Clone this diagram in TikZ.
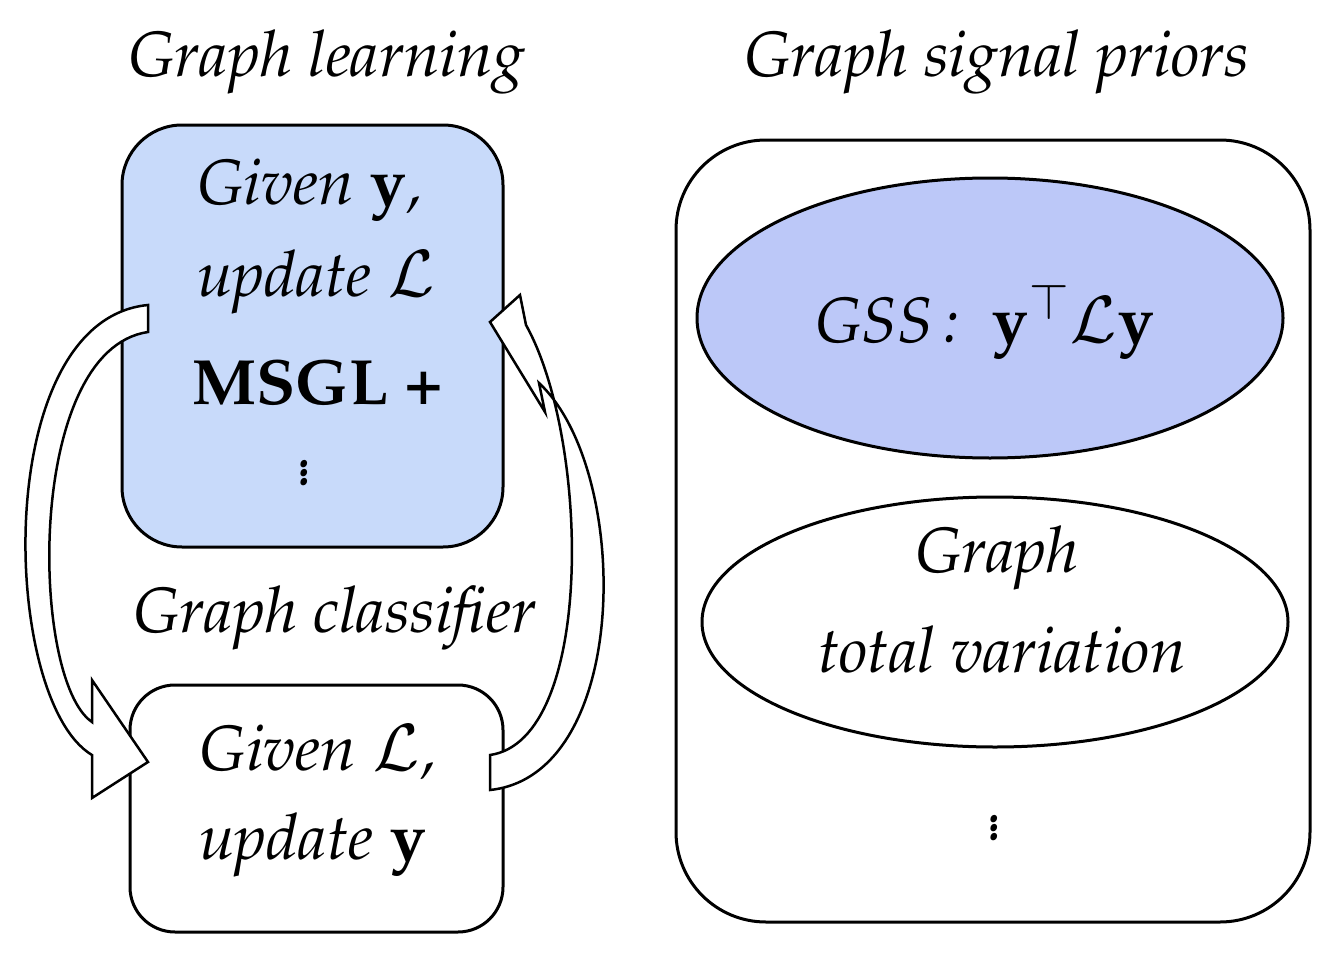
\documentclass[tikz,border=0pt]{standalone}
\usepackage[T1]{fontenc}
\usepackage{mathpazo}
\usetikzlibrary{shapes.geometric}
\begin{document}
\begin{tikzpicture}[x=1pt,y=-1pt,line width=3pt,
  t/.style={font=\fontsize{64}{72}\selectfont\itshape,inner sep=0pt},
  arr/.style={draw,fill=white,line width=2.5pt,line join=miter}]
\useasboundingbox (0,0) rectangle (1334,966);
\node[t] (h1) at (327,62) {Graph learning};
\node[t] (h2) at (997,62) {Graph signal priors};
\node[draw,fill={rgb,255:red,200;green,218;blue,250},rounded corners=60pt,minimum width=381pt,minimum height=422pt] (top) at (312.5,336) {};
\node[draw,fill=white,rounded corners=45pt,minimum width=373pt,minimum height=247pt] (bot) at (316.5,808.5) {};
\node[draw,rounded corners=90pt,minimum width=634pt,minimum height=782pt] (right) at (993,531) {};
\node[draw,ellipse,fill={rgb,255:red,188;green,200;blue,248},minimum width=586pt,minimum height=280pt] (e1) at (990,318) {};
\node[draw,ellipse,fill=white,minimum width=586pt,minimum height=250pt] (e2) at (995,622) {};
% arrows
\path[arr] (148,305) .. controls (-10,320) and (0,700) .. (92,755) -- (92,798) -- (148,762) -- (92,680) -- (92,722) .. controls (30,680) and (25,350) .. (148,332) -- cycle;
\path[arr] (490,755) .. controls (595,740) and (590,440) .. (526,325) -- (520,295) -- (490,322) -- (545,412) -- (539,383) .. controls (632,470) and (632,775) .. (490,790) -- cycle;
% texts
\node[t] (a1) at (310,190) {Given $\mathbf{y}$,};
\node[t] (a2) at (316,282) {update $\mathcal{L}$};
\node[t,font=\fontsize{64}{72}\selectfont\bfseries] (a3) at (318,382) {MSGL +};
\node[t] (a4) at (305,470) {$\vdots$};
\node[t] (c) at (335,618) {Graph classifier};
\node[t] (b1) at (318,752) {Given $\mathcal{L}$,};
\node[t] (b2) at (313,845) {update $\mathbf{y}$};
\node[t] (g) at (985,322) {GSS\,:\ \ $\mathbf{y}^{\top}\mathcal{L}\mathbf{y}$};
\node[t] (v1) at (997,558) {Graph};
\node[t] (v2) at (1002,650) {total variation};
\node[t] (v3) at (995,825) {$\vdots$};
\end{tikzpicture}
\end{document}
